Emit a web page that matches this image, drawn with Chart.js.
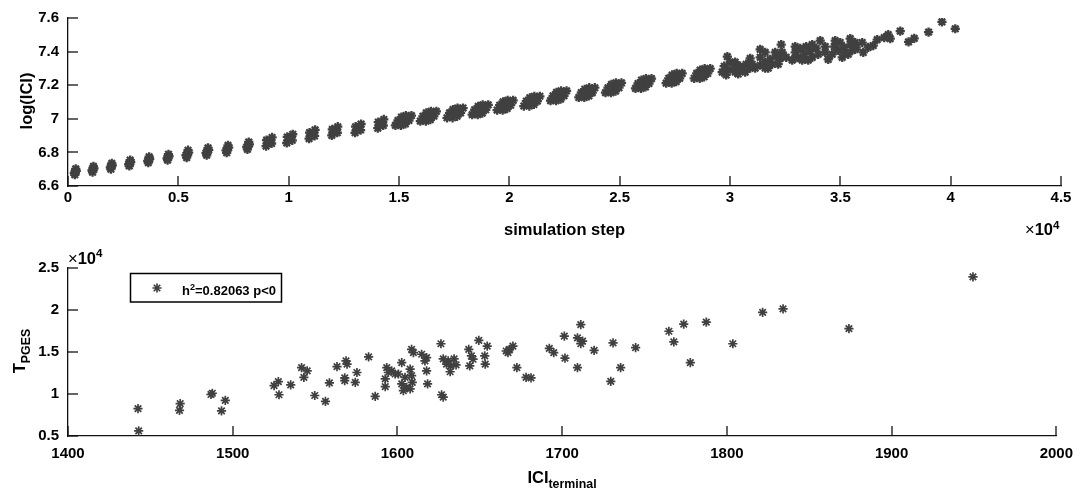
<!DOCTYPE html>
<html>
<head>
<meta charset="utf-8">
<script src="https://cdn.jsdelivr.net/npm/chart.js@4.4.1/dist/chart.umd.min.js"></script>
<style>
  body { margin: 0; background: #fff; }
  #wrap { position: relative; width: 1082px; height: 492px; overflow: hidden; }
  canvas { position: absolute; left: 0; }
  .lab { position: absolute; font: bold 16.5px "Liberation Sans", Arial, sans-serif; color: #000;
         white-space: nowrap; line-height: 1; transform: translate(-50%, -50%); }
  .lab sup { font-size: 0.7em; vertical-align: 0; position: relative; top: -0.55em; line-height: 0; }
  .lab sub { font-size: 0.75em; vertical-align: 0; position: relative; top: 0.38em; line-height: 0; }
  .thin { font-weight: normal; }
</style>
</head>
<body>
<div id="wrap">
  <canvas id="topChart" width="1082" height="250" style="top:0"></canvas>
  <canvas id="botChart" width="1082" height="242" style="top:250px"></canvas>

  <div class="lab" style="left:26px;top:100.5px;transform:translate(-50%,-50%) rotate(-90deg)">log(ICI)</div>
  <div class="lab" style="left:564.5px;top:229px">simulation step</div>
  <div class="lab" style="left:1025px;top:229px;transform:translateY(-50%)"><span class="thin">×</span>10<sup>4</sup></div>

  <div class="lab" style="left:68px;top:257.5px;transform:translateY(-50%)"><span class="thin">×</span>10<sup>4</sup></div>
  <div class="lab" style="left:19px;top:350.5px;transform:translate(-50%,-50%) rotate(-90deg)">T<sub>PGES</sub></div>
  <div class="lab" style="left:562px;top:477px">ICI<sub>terminal</sub></div>
  <div class="lab" style="left:182px;top:290px;transform:translateY(-50%);font-size:13px">h<sup>2</sup>=0.82063 p&lt;0</div>
</div>

<script>
// top panel: log(ICI) against simulation step (one row per cluster of runs)
const simStep = [
  350, 330, 310, 375, 285,
  1153, 1133, 1113, 1178, 1088,
  1983, 1963, 1943, 2008, 1918,
  2817, 2797, 2777, 2842, 2752,
  3678, 3658, 3638, 3703, 3613,
  4553, 4533, 4513, 4578, 4488,
  5438, 5408, 5378, 5468, 5348,
  6345, 6315, 6285, 6375, 6255,
  7251, 7221, 7191, 7281, 7161,
  8190, 8160, 8130, 8220, 8100,
  8976, 9067, 9157, 9248, 8999, 9225, 9112,
  9914, 10005, 10095, 10186, 9937, 10163, 10050,
  10925, 11016, 11106, 11197, 10948, 11174, 11061,
  11954, 12045, 12135, 12226, 11977, 12203, 12090,
  13010, 13101, 13191, 13282, 13033, 13259, 13146,
  14039, 14130, 14220, 14311, 14062, 14288, 14175,
  14837, 15019, 15200, 15381, 15563, 15109, 15291, 14951, 15449, 15087, 15313,
  15967, 16149, 16330, 16511, 16693, 16239, 16421, 16081, 16579, 16217, 16443,
  17177, 17359, 17540, 17721, 17903, 17449, 17631, 17291, 17789, 17427, 17653,
  18317, 18499, 18680, 18861, 19043, 18589, 18771, 18431, 18929, 18567, 18793,
  19447, 19629, 19810, 19991, 20173, 19719, 19901, 19561, 20059, 19697, 19923,
  20657, 20839, 21020, 21201, 21383, 20929, 21111, 20771, 21269, 20907, 21133,
  21867, 22049, 22230, 22411, 22593, 22139, 22321, 21981, 22479, 22117, 22343,
  23147, 23329, 23510, 23691, 23873, 23419, 23601, 23261, 23759, 23397, 23623,
  24357, 24539, 24720, 24901, 25083, 24629, 24811, 24471, 24969, 24607, 24833,
  25717, 25899, 26080, 26261, 26443, 25989, 26171, 25831, 26329, 25967, 26193,
  27107, 27289, 27470, 27651, 27833, 27379, 27561, 27221, 27719, 27357, 27583,
  28377, 28559, 28740, 28921, 29103, 28649, 28831, 28491, 28989, 28627, 28853,
  29646, 29918, 30190, 30462, 30734, 30008, 30371, 30688, 29827, 29880, 30235, 30553, 29737,
  30235, 30915, 30915,
  31142, 31368, 31595, 31822, 32094, 32366, 31368, 31731, 32184, 32320, 31368,
  31595, 31913, 32049, 32547, 31006, 31595, 32275,
  32819, 33091, 33363, 33635, 33907, 33182, 33544, 34089, 34315, 34451,
  32955, 33272, 33726, 33998, 33454, 32955, 32955, 33726,
  34632, 34904, 35176, 35448, 35675, 34995, 35357, 35448, 34723, 35085, 35538, 35720,
  34315, 34768, 35221, 35675,
  35992, 36037, 36491, 36672, 36264, 36989, 37171, 37262,
  37715, 38091, 38349, 38998, 39605, 40208
];
const logIci = [
  6.702, 6.684, 6.667, 6.690, 6.678,
  6.717, 6.699, 6.682, 6.705, 6.693,
  6.735, 6.717, 6.700, 6.723, 6.711,
  6.754, 6.736, 6.719, 6.742, 6.730,
  6.774, 6.756, 6.739, 6.762, 6.750,
  6.789, 6.771, 6.754, 6.777, 6.765,
  6.813, 6.791, 6.769, 6.799, 6.783,
  6.827, 6.805, 6.783, 6.813, 6.797,
  6.842, 6.820, 6.798, 6.828, 6.812,
  6.862, 6.840, 6.818, 6.848, 6.832,
  6.837, 6.854, 6.872, 6.889, 6.873, 6.853, 6.863,
  6.856, 6.873, 6.891, 6.908, 6.892, 6.872, 6.882,
  6.882, 6.899, 6.917, 6.934, 6.918, 6.898, 6.908,
  6.901, 6.918, 6.936, 6.953, 6.937, 6.917, 6.927,
  6.917, 6.934, 6.952, 6.969, 6.953, 6.933, 6.943,
  6.944, 6.961, 6.979, 6.996, 6.980, 6.960, 6.970,
  6.961, 6.975, 6.990, 7.005, 7.019, 7.010, 6.970, 6.990, 6.990, 6.961, 7.019,
  6.986, 7.000, 7.015, 7.030, 7.044, 7.035, 6.995, 7.015, 7.015, 6.986, 7.044,
  7.006, 7.020, 7.035, 7.050, 7.064, 7.055, 7.015, 7.035, 7.035, 7.006, 7.064,
  7.025, 7.039, 7.054, 7.069, 7.083, 7.074, 7.034, 7.054, 7.054, 7.025, 7.083,
  7.052, 7.066, 7.081, 7.096, 7.110, 7.101, 7.061, 7.081, 7.081, 7.052, 7.110,
  7.076, 7.090, 7.105, 7.120, 7.134, 7.125, 7.085, 7.105, 7.105, 7.076, 7.134,
  7.108, 7.122, 7.137, 7.152, 7.166, 7.157, 7.117, 7.137, 7.137, 7.108, 7.166,
  7.127, 7.141, 7.156, 7.171, 7.185, 7.176, 7.136, 7.156, 7.156, 7.127, 7.185,
  7.156, 7.170, 7.185, 7.200, 7.214, 7.205, 7.165, 7.185, 7.185, 7.156, 7.214,
  7.181, 7.195, 7.210, 7.225, 7.239, 7.230, 7.190, 7.210, 7.210, 7.181, 7.239,
  7.212, 7.226, 7.241, 7.256, 7.270, 7.261, 7.221, 7.241, 7.241, 7.212, 7.270,
  7.241, 7.255, 7.270, 7.285, 7.299, 7.290, 7.250, 7.270, 7.270, 7.241, 7.299,
  7.278, 7.290, 7.302, 7.313, 7.325, 7.337, 7.267, 7.278, 7.261, 7.370, 7.278, 7.296, 7.313,
  7.337, 7.360, 7.302,
  7.302, 7.319, 7.337, 7.354, 7.372, 7.395, 7.366, 7.302, 7.325, 7.442, 7.413,
  7.302, 7.325, 7.395, 7.366, 7.325, 7.395, 7.360,
  7.349, 7.366, 7.384, 7.401, 7.419, 7.419, 7.349, 7.465, 7.395, 7.354,
  7.395, 7.349, 7.366, 7.384, 7.430, 7.430, 7.360, 7.442,
  7.384, 7.407, 7.425, 7.442, 7.454, 7.454, 7.384, 7.477, 7.430, 7.366, 7.407, 7.425,
  7.430, 7.465, 7.395, 7.413,
  7.454, 7.395, 7.436, 7.471, 7.425, 7.483, 7.501, 7.477,
  7.522, 7.458, 7.479, 7.516, 7.577, 7.536
];

// bottom panel: T_PGES against ICI_terminal
const iciTerminal = [
  1442.5, 1442.9, 1468.1, 1467.7, 1487.6, 1486.8, 1495.5, 1493.2,
  1525.1, 1527.7, 1528.1, 1535.2, 1541.8, 1545.2, 1543.2, 1549.8, 1556.3, 1558.7,
  1563.3, 1568.8, 1569.4, 1568.0, 1568.0, 1575.4, 1574.4, 1582.5, 1586.5,
  1593.5, 1596.5, 1594.5, 1598.6, 1592.6, 1592.6, 1602.6, 1600.6, 1604.6, 1602.6,
  1605.6, 1603.6, 1607.7, 1607.7, 1608.6, 1609.0, 1608.6, 1609.7, 1614.7, 1617.7,
  1616.7, 1617.7, 1618.3, 1626.4, 1630.8, 1632.4, 1629.8, 1627.8, 1634.4, 1632.0,
  1635.6, 1626.8, 1627.8, 1643.3, 1644.9, 1645.9, 1643.9, 1649.4, 1654.5, 1653.0,
  1653.3, 1666.0, 1668.1, 1670.1, 1667.1, 1672.5, 1678.1, 1681.1, 1692.2, 1694.9,
  1701.3, 1701.7, 1709.3, 1711.3, 1709.3, 1712.4, 1711.3, 1719.4, 1730.9, 1735.5,
  1729.5, 1744.6, 1764.8, 1773.8, 1767.8, 1777.8, 1787.5, 1803.6, 1821.7, 1834.1,
  1874.1, 1949.4
];
const tPges = [
  8260, 5620, 8850, 8060, 10090, 9940, 9240, 7980,
  11000, 11470, 9910, 11080, 13150, 12760, 11980, 9820, 9120, 11320,
  13270, 13940, 13550, 11910, 11590, 12560, 11390, 14410, 9710,
  13150, 12760, 12560, 12380, 11790, 10880, 13740, 12380, 11980, 11200,
  10800, 10410, 10610, 12960, 12180, 11390, 15320, 14920, 14730, 14330,
  13940, 12760, 11200, 15980, 13940, 13350, 13550, 14180, 14180, 12650,
  13470, 9910, 9620, 15320, 14530, 14140, 13350, 16380, 15710, 14530,
  13550, 15120, 15320, 15710, 14920, 13150, 11980, 11910, 15440, 14920,
  16880, 14260, 13150, 18260, 16680, 16290, 15980, 15200, 16090, 13150,
  11510, 15510, 17470, 18330, 16210, 13740, 18560, 15980, 19710, 20140,
  17790, 23940
];

// axis ticks
const topXTickVals = [0, 5000, 10000, 15000, 20000, 25000, 30000, 35000, 40000, 45000];
const topXTicks = ['0', '0.5', '1', '1.5', '2', '2.5', '3', '3.5', '4', '4.5'];
const topYTickVals = [6.6, 6.8, 7, 7.2, 7.4, 7.6];
const topYTicks = ['6.6', '6.8', '7', '7.2', '7.4', '7.6'];
const botXTickVals = [1400, 1500, 1600, 1700, 1800, 1900, 2000];
const botXTicks = ['1400', '1500', '1600', '1700', '1800', '1900', '2000'];
const botYTickVals = [5000, 10000, 15000, 20000, 25000];
const botYTicks = ['0.5', '1', '1.5', '2', '2.5'];

const INK = "#111";
const MARK = "#404040";
const tickFont = { family: "'Liberation Sans', Arial, sans-serif", size: 15, weight: "bold" };

// MATLAB-style ticks pointing into the plot
const inwardTicks = {
    id: "inwardTicks",
    afterDraw(chart) {
        const { ctx, chartArea: a, scales: { x, y } } = chart;
        ctx.save();
        ctx.strokeStyle = INK;
        ctx.lineWidth = 1.3;
        x.ticks.forEach(t => {
            const px = Math.round(x.getPixelForValue(t.value));
            ctx.beginPath(); ctx.moveTo(px, a.bottom); ctx.lineTo(px, a.bottom - 10); ctx.stroke();
        });
        y.ticks.forEach(t => {
            const py = Math.round(y.getPixelForValue(t.value));
            ctx.beginPath(); ctx.moveTo(a.left, py); ctx.lineTo(a.left + 10, py); ctx.stroke();
        });
        ctx.restore();
    }
};

// legend frame and marker (its text is an html label)
const legendBox = {
    id: "legendBox",
    afterDraw(chart) {
        const ctx = chart.ctx;
        const ds = chart.data.datasets[0];
        ctx.save();
        ctx.strokeStyle = "#000";
        ctx.lineWidth = 1.5;
        ctx.strokeRect(130.5, 23.5, 151, 28.5);
        ctx.strokeStyle = MARK;
        ctx.lineWidth = ds.borderWidth;
        Chart.helpers.drawPoint(ctx, { pointStyle: "star", radius: ds.pointRadius, rotation: 0,
                                       borderWidth: ds.borderWidth }, 157, 38);
        ctx.restore();
    }
};

function makeChart(id, xs, ys, o) {
    const pts = xs.map((v, i) => ({ x: v, y: ys[i] }));
    return new Chart(document.getElementById(id), {
        type: "scatter",
        data: {
            datasets: [{
                data: pts,
                pointStyle: "star",
                pointRadius: o.radius,
                borderWidth: o.lw,
                borderColor: MARK,
                backgroundColor: MARK
            }]
        },
        options: {
            responsive: false,
            animation: false,
            devicePixelRatio: 1,
            events: [],
            layout: { padding: { left: 0, right: 21, top: o.top, bottom: 0 } },
            plugins: { legend: { display: false }, tooltip: { enabled: false } },
            scales: {
                x: {
                    type: "linear", min: o.xVals[0], max: o.xVals[o.xVals.length - 1],
                    afterBuildTicks: s => { s.ticks = o.xVals.map(v => ({ value: v })); },
                    afterFit: s => { s.height = o.xh; },
                    grid: { display: false, drawTicks: false },
                    border: { display: true, color: INK, width: 1.3 },
                    ticks: { color: "#000", font: tickFont, padding: o.xpad, maxRotation: 0,
                             callback: (v, i) => o.xLabels[i] }
                },
                y: {
                    type: "linear", min: o.yVals[0], max: o.yVals[o.yVals.length - 1],
                    afterBuildTicks: s => { s.ticks = o.yVals.map(v => ({ value: v })); },
                    afterFit: s => { s.width = 68; },
                    grid: { display: false, drawTicks: false },
                    border: { display: true, color: INK, width: 1.3 },
                    ticks: { color: "#000", font: tickFont, padding: 9,
                             callback: (v, i) => o.yLabels[i] }
                }
            }
        },
        plugins: o.plugins
    });
}

makeChart("topChart", simStep, logIci, {
    radius: 4.6, lw: 2.3, top: 15, xh: 64, xpad: 3,
    xVals: topXTickVals, xLabels: topXTicks, yVals: topYTickVals, yLabels: topYTicks,
    plugins: [inwardTicks]
});

makeChart("botChart", iciTerminal, tPges, {
    radius: 4.6, lw: 1.7, top: 16, xh: 56, xpad: 9,
    xVals: botXTickVals, xLabels: botXTicks, yVals: botYTickVals, yLabels: botYTicks,
    plugins: [inwardTicks, legendBox]
});
</script>
</body>
</html>
